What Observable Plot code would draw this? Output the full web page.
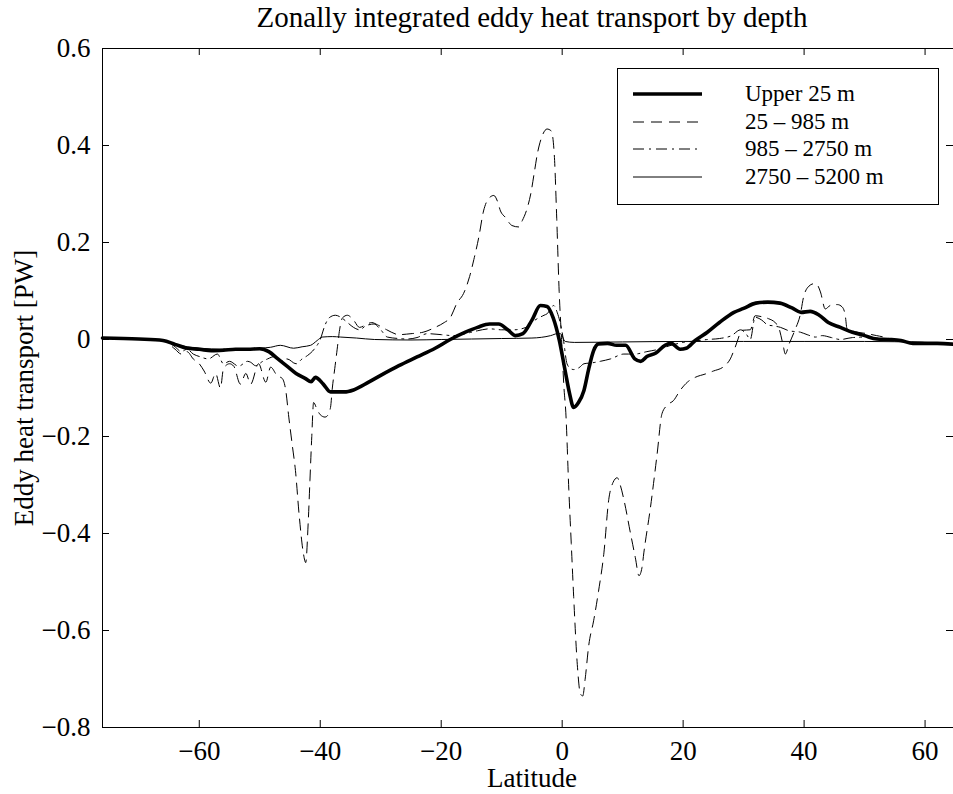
<!DOCTYPE html>
<html><head><meta charset="utf-8">
<script src="https://cdn.jsdelivr.net/npm/d3@7"></script>
<script src="https://cdn.jsdelivr.net/npm/@observablehq/plot@0.6"></script>
<style>
html,body{margin:0;padding:0;background:#fff;overflow:hidden}
#wrap{position:relative;width:953px;height:794px}
#legend{position:absolute;left:617px;top:68px}
</style></head><body><div id="wrap"></div>
<script>
// [latitude, PW]
const upper25 = [[-76,0.003],[-70,0.001],[-66,-0.002],[-64,-0.01],[-62,-0.018],[-60,-0.02],[-58,-0.023],[-56,-0.022],[-54,-0.02],[-52,-0.02],[-50,-0.019],[-48.5,-0.025],[-47,-0.04],[-45.5,-0.055],[-44,-0.07],[-42.5,-0.08],[-41.5,-0.087],[-40.8,-0.078],[-39.5,-0.092],[-38.3,-0.108],[-36,-0.108],[-34.5,-0.104],[-32,-0.088],[-30,-0.074],[-27,-0.054],[-24,-0.036],[-21,-0.018],[-18.5,0.0],[-16,0.015],[-14,0.025],[-12,0.032],[-10.5,0.032],[-9,0.02],[-7.7,0.008],[-6.5,0.012],[-5,0.04],[-3.6,0.07],[-2.5,0.068],[-1.5,0.045],[-0.5,0.0],[0.5,-0.065],[1.2,-0.11],[1.9,-0.14],[2.7,-0.13],[3.6,-0.105],[4.4,-0.06],[5.2,-0.023],[6,-0.009],[7.5,-0.008],[9,-0.012],[10.5,-0.012],[12,-0.04],[13,-0.045],[14,-0.035],[15.5,-0.028],[17,-0.012],[18,-0.008],[19.5,-0.02],[20.5,-0.018],[22,-0.002],[24,0.015],[26,0.035],[28.4,0.056],[30,0.064],[32,0.075],[34,0.077],[36,0.075],[38,0.065],[39.5,0.056],[41,0.058],[42.5,0.05],[44,0.035],[46,0.025],[48,0.015],[50,0.008],[52,0.001],[54,0.0],[56,-0.002],[58,-0.008],[60,-0.008],[62,-0.008],[64.7,-0.01]];

const mid25to985 = [[-76,0.003],[-70,0.001],[-66,-0.002],[-64,-0.02],[-63,-0.03],[-62,-0.025],[-61,-0.04],[-60,-0.05],[-59.2,-0.065],[-58.1,-0.09],[-57.3,-0.07],[-56.5,-0.1],[-56,-0.06],[-55,-0.05],[-54.3,-0.055],[-53.2,-0.092],[-52.3,-0.07],[-51.5,-0.092],[-50.2,-0.05],[-49,-0.088],[-48.2,-0.057],[-47.1,-0.075],[-46.3,-0.08],[-45.7,-0.105],[-45.2,-0.16],[-44.6,-0.22],[-44.1,-0.27],[-43.5,-0.36],[-42.8,-0.44],[-42.4,-0.46],[-42,-0.38],[-41.7,-0.29],[-41.4,-0.2],[-41.1,-0.13],[-40.5,-0.145],[-40,-0.155],[-39.2,-0.16],[-38.8,-0.157],[-38.3,-0.14],[-38,-0.1],[-37.6,-0.06],[-37.2,-0.02],[-36.8,0.02],[-36.3,0.045],[-35.5,0.05],[-34.5,0.04],[-33.5,0.025],[-32.5,0.03],[-31.5,0.035],[-30.5,0.03],[-29,0.02],[-27,0.01],[-25,0.012],[-23,0.015],[-21,0.025],[-19.5,0.035],[-18.5,0.045],[-17.4,0.075],[-16.3,0.095],[-15.3,0.13],[-14.6,0.165],[-13.8,0.21],[-13,0.265],[-12.2,0.29],[-11.3,0.297],[-10.7,0.285],[-10.2,0.265],[-9.4,0.252],[-8.3,0.235],[-7.2,0.232],[-6.6,0.245],[-5.8,0.27],[-5.2,0.3],[-4.6,0.345],[-4.1,0.383],[-3.3,0.42],[-2.5,0.434],[-1.8,0.43],[-1.3,0.38],[-0.9,0.25],[-0.5,0.1],[-0.1,0.0],[0.3,-0.1],[0.6,-0.15],[1.1,-0.31],[1.5,-0.42],[1.9,-0.53],[2.5,-0.67],[3.0,-0.73],[3.4,-0.735],[3.8,-0.7],[4.4,-0.63],[5.2,-0.58],[6.0,-0.52],[6.9,-0.44],[7.7,-0.33],[8.4,-0.295],[9.1,-0.285],[9.6,-0.3],[10.2,-0.33],[11.3,-0.4],[12.1,-0.45],[12.7,-0.487],[13.2,-0.47],[13.5,-0.44],[14.6,-0.346],[15.7,-0.236],[16.5,-0.153],[17.4,-0.135],[18.4,-0.126],[19.5,-0.105],[20.7,-0.088],[22,-0.078],[23.7,-0.071],[25,-0.065],[26.7,-0.056],[27.8,-0.04],[28.6,-0.016],[29.8,0.019],[31.1,0.02],[31.9,0.049],[33,0.047],[34.1,0.043],[35.2,0.035],[35.8,0.025],[36.5,-0.01],[36.9,-0.03],[37.5,-0.01],[38.5,0.02],[39.4,0.053],[39.9,0.087],[40.8,0.11],[41.6,0.115],[42.2,0.112],[42.7,0.098],[43.5,0.063],[44.3,0.07],[45.5,0.072],[46.3,0.067],[46.8,0.05],[47.1,0.022],[48.5,0.016],[50.4,0.012],[52,0.008],[53.2,0.005],[55.9,-0.004],[58,-0.006],[60,-0.008],[64.7,-0.01]];

const deep985to2750 = [[-76,0.003],[-70,0.001],[-66,-0.002],[-64,-0.015],[-63,-0.025],[-62,-0.02],[-61,-0.03],[-60,-0.035],[-58.5,-0.04],[-57,-0.03],[-56,-0.05],[-55,-0.045],[-53.5,-0.055],[-52,-0.045],[-51.5,-0.047],[-50.7,-0.054],[-49.5,-0.045],[-48.7,-0.04],[-47.5,-0.035],[-46.5,-0.045],[-45.5,-0.04],[-44,-0.05],[-43,-0.04],[-42.1,-0.033],[-41,-0.02],[-40,0.0],[-39.2,0.03],[-38.5,0.045],[-37.5,0.05],[-36.5,0.045],[-35.5,0.035],[-34.5,0.025],[-33.5,0.02],[-32.5,0.028],[-31.1,0.032],[-30,0.02],[-28.9,0.005],[-27,0.002],[-25.6,0.001],[-24,0.004],[-22.3,0.012],[-20,0.01],[-18,0.008],[-16,0.012],[-14,0.018],[-12,0.022],[-10,0.02],[-8,0.02],[-6,0.025],[-4.5,0.04],[-3,0.05],[-2.5,0.053],[-1.4,0.07],[-0.8,0.055],[-0.3,0.033],[0.2,0.0],[0.8,-0.05],[1.4,-0.06],[1.9,-0.062],[2.8,-0.058],[3.6,-0.05],[5,-0.048],[6.3,-0.045],[8,-0.04],[10.2,-0.03],[12,-0.03],[14,-0.025],[16,-0.02],[18,-0.012],[20,-0.006],[22,-0.003],[24,0.0],[26,0.002],[28,0.008],[29.5,0.02],[30.5,0.01],[31.1,0.0],[31.9,0.046],[33,0.04],[34,0.03],[35,0.028],[36.1,0.025],[37.5,0.018],[39.4,0.015],[40.5,0.01],[41.9,0.005],[43,0.008],[44.5,0.004],[46,0.0],[48,0.004],[50.4,0.005],[52,0.003],[54,0.0],[56,-0.004],[60,-0.006],[64.7,-0.008]];

const abyss2750to5200 = [[-76,0.003],[-70,0.001],[-66,-0.002],[-64,-0.01],[-62,-0.015],[-60,-0.018],[-56,-0.02],[-52,-0.02],[-50,-0.018],[-48.2,-0.016],[-46.6,-0.012],[-44.4,-0.018],[-43,-0.015],[-41.6,-0.012],[-40.5,-0.002],[-39.7,0.005],[-38,0.006],[-36.6,0.005],[-34,0.003],[-31,0.0],[-25,-0.001],[-20,0.0],[-15,0.001],[-10,0.002],[-5,0.003],[-1.9,0.008],[-0.8,0.012],[-0.3,0.012],[0.5,-0.004],[2,-0.006],[10,-0.005],[20,-0.004],[30,-0.004],[40,-0.004],[50,-0.004],[60,-0.006],[64.7,-0.008]];

const seriesNames = ["Upper 25 m", "25 – 985 m", "985 – 2750 m", "2750 – 5200 m"];
const xTicks = [-60, -40, -20, 0, 20, 40, 60];
const yTicks = [-0.8, -0.6, -0.4, -0.2, 0, 0.2, 0.4, 0.6];
const xDomain = [-76, 64.7];
const yDomain = [-0.8, 0.6];
const titleText = "Zonally integrated eddy heat transport by depth";
const xLabel = "Latitude";
const yLabel = "Eddy heat transport [PW]";

const styles = [
  {strokeWidth: 3.6, dash: null},
  {strokeWidth: 1, dash: "11,7"},
  {strokeWidth: 1, dash: "11,5,2,5"},
  {strokeWidth: 1, dash: null}
];
const allSeries = [upper25, mid25to985, deep985to2750, abyss2750to5200];

const W = 953, H = 794, mL = 102, mR = 0, mT = 48, mB = 67;
const plotW = W - mL - mR, plotH = H - mT - mB, tk = 7;
const font = "'Liberation Serif', 'Times New Roman', Times, serif";

const lineMarks = allSeries.map((s, i) => Plot.line(s, {
  x: d => d[0], y: d => d[1], stroke: "black",
  strokeWidth: styles[i].strokeWidth, strokeDasharray: styles[i].dash,
  strokeLinejoin: "round", curve: "monotone-x"
}));

const chart = Plot.plot({
  width: W, height: H, marginLeft: mL, marginRight: mR, marginTop: mT, marginBottom: mB,
  style: {fontFamily: font, background: "white", color: "black"},
  x: {domain: xDomain},
  y: {domain: yDomain},
  marks: [
    Plot.axisX(xTicks, {anchor: "bottom", tickSize: 0, tickPadding: 13, fontSize: 27, label: null, tickFormat: d => d3.format("d")(d)}),
    Plot.axisY(yTicks, {anchor: "left", tickSize: 0, tickPadding: 12, fontSize: 27, label: null, tickFormat: d => d === 0 ? "0" : d3.format(".1f")(d)}),
    Plot.tickY(yTicks, {y: d => d, insetRight: plotW - tk, stroke: "black"}),
    Plot.tickY(yTicks, {y: d => d, insetLeft: plotW - tk, stroke: "black"}),
    Plot.tickX(xTicks, {x: d => d, insetBottom: plotH - tk, stroke: "black"}),
    Plot.tickX(xTicks, {x: d => d, insetTop: plotH - tk, stroke: "black"}),
    ...lineMarks,
    Plot.ruleX([xDomain[0]], {stroke: "black"}),
    Plot.ruleY([yDomain[0], yDomain[1]], {stroke: "black"}),
    Plot.text([titleText], {text: d => d, frameAnchor: "top", lineAnchor: "middle", textAnchor: "middle", dy: -31, dx: 4, fontSize: 29, fill: "black"}),
    Plot.text([xLabel], {text: d => d, frameAnchor: "bottom", lineAnchor: "middle", textAnchor: "middle", dy: 51, dx: 4, fontSize: 27, fill: "black"}),
    Plot.text([yLabel], {text: d => d, frameAnchor: "left", lineAnchor: "middle", textAnchor: "middle", rotate: -90, dx: -78, fontSize: 27, fill: "black"})
  ]
});
document.getElementById("wrap").appendChild(chart);

// legend
const lw = 322, lh = 137;
const leg = d3.select("#wrap").append("svg").attr("id", "legend")
  .attr("width", lw).attr("height", lh);
leg.append("rect").attr("x", 0.5).attr("y", 0.5).attr("width", lw - 1).attr("height", lh - 1)
  .attr("fill", "white").attr("stroke", "black");
const rowY = [26, 54, 81, 109];
seriesNames.forEach((name, i) => {
  leg.append("line").attr("x1", 16).attr("x2", 85).attr("y1", rowY[i]).attr("y2", rowY[i])
    .attr("stroke", "black").attr("stroke-width", styles[i].strokeWidth)
    .attr("stroke-dasharray", styles[i].dash);
  leg.append("text").attr("x", 128).attr("y", rowY[i] + 2).attr("dominant-baseline", "middle")
    .attr("font-family", font).attr("font-size", 23).text(name);
});
</script></body></html>
